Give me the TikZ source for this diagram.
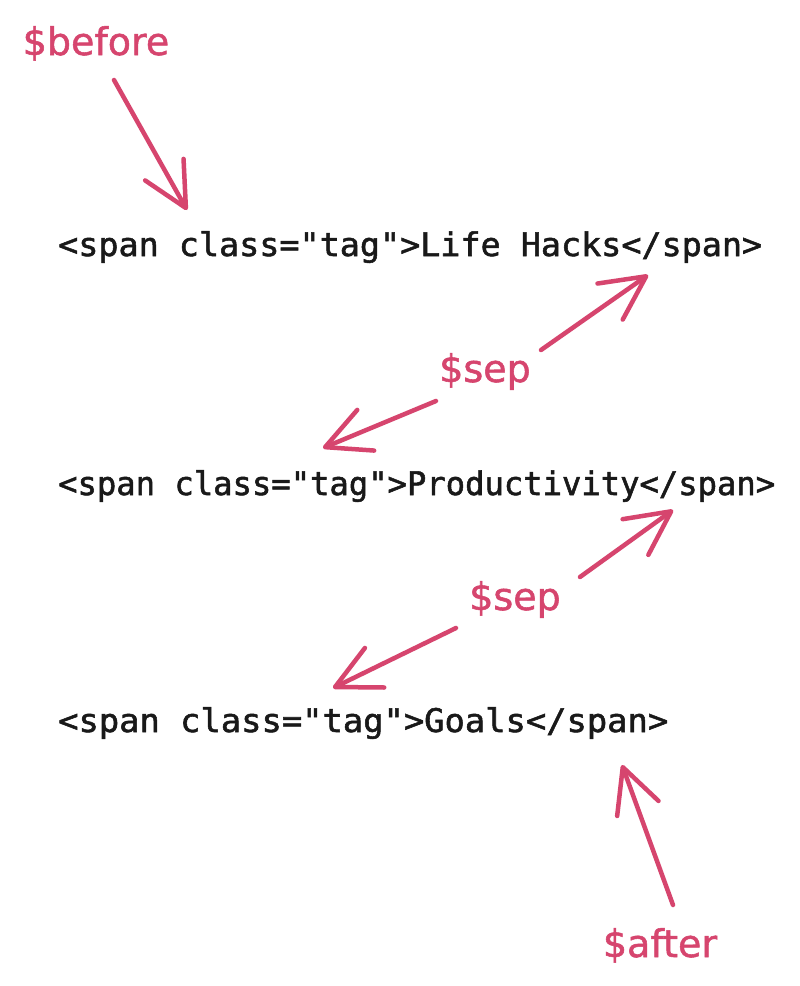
\documentclass[tikz,border=0pt]{standalone}
\usepackage{fontspec}
\newfontfamily\codefont[FakeBold=1.6]{DejaVu Sans Mono}
\newfontfamily\lblfont[FakeBold=1.4]{DejaVu Sans}
\usetikzlibrary{arrows.meta}
\definecolor{pinkc}{RGB}{214,69,110}
\definecolor{ink}{RGB}{25,25,25}
\newcommand{\fitw}[2]{\resizebox{#1}{\height}{#2}}
\begin{document}
\begin{tikzpicture}[x=1pt,y=-1pt,
  code/.style={anchor=base west, inner sep=0pt, text=ink, font=\codefont\fontsize{32.5}{40}\selectfont},
  lbl/.style={anchor=base, inner sep=0pt, text=pinkc, font=\lblfont\fontsize{38}{44}\selectfont},
  arr/.style={draw=pinkc, line width=4.5pt, line cap=round,
    -{Straight Barb[length=44pt,width=44pt,line cap=round,line join=round]}}]
\useasboundingbox[fill=white] (0,0) rectangle (800,986);

\node[code] (l1) at (58,256) {\fitw{704pt}{<span class="tag">Life Hacks</span>}};
\node[code] (l2) at (58,495) {\fitw{717pt}{<span class="tag">Productivity</span>}};
\node[code] (l3) at (58,732) {\fitw{610pt}{<span class="tag">Goals</span>}};

\node[lbl] (before) at (96,55) {\$before};
\node[lbl] (sep1) at (485,382) {\$sep};
\node[lbl] (sep2) at (515,610) {\$sep};
\node[lbl] (after) at (660,957) {\$after};

\coordinate (b0) at (114,80);  \coordinate (b1) at (187,210);
\coordinate (s1a) at (541,350); \coordinate (s1b) at (648,275);
\coordinate (s1c) at (436,401); \coordinate (s1d) at (323,448);
\coordinate (s2a) at (580,577); \coordinate (s2b) at (673,510);
\coordinate (s2c) at (456,628); \coordinate (s2d) at (333,688);
\coordinate (a0) at (673,905);  \coordinate (a1) at (622,765);

\draw[arr] (b0) -- (b1);
\draw[arr] (s1a) -- (s1b);
\draw[arr] (s1c) -- (s1d);
\draw[arr] (s2a) -- (s2b);
\draw[arr] (s2c) -- (s2d);
\draw[arr] (a0) -- (a1);
\end{tikzpicture}
\end{document}
